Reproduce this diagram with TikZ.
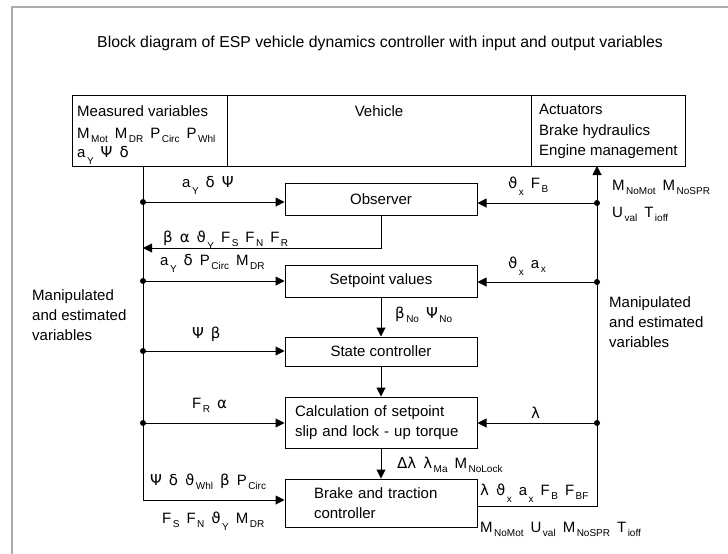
\documentclass[tikz,border=0pt]{standalone}
\usepackage{fontspec}
\setmainfont{Liberation Sans}
\newfontfamily\gk{DejaVu Sans}
\usetikzlibrary{arrows.meta}
\newcommand{\sbx}[1]{\hspace{1.5pt}\raisebox{-4pt}{\fontsize{10}{10}\selectfont #1}}
\newcommand{\sbl}[1]{\hspace{1.5pt}\raisebox{-7pt}{\fontsize{10}{10}\selectfont #1}}
\newcommand{\G}[1]{{\gk #1}}
\newcommand{\gp}{\hspace{7pt}}
\begin{document}
\begin{tikzpicture}[x=1pt,y=-1pt,
  every node/.style={font=\fontsize{15}{20.5}\selectfont},
  blk/.style={draw, line width=1pt, inner sep=0},
  lbl/.style={anchor=base west, inner sep=0},
  ln/.style={line width=1pt},
  arr/.style={ln, -{Triangle[length=9pt,width=9pt]}},
  dot/.style={circle, fill, inner sep=0, minimum size=6pt}]
\useasboundingbox (0,0) rectangle (728,554);
\draw[gray!65, line width=2pt] (12,554) -- (12,6.5) -- (728,6.5);

\node[anchor=base, inner sep=0, font=\fontsize{15.8}{20}\selectfont] (title) at (380,47) {Block diagram of ESP vehicle dynamics controller with input and output variables};

% top bar
\node[blk, minimum width=155, minimum height=71] (meas) at (149.5,130.5) {};
\node[blk, minimum width=304, minimum height=71] (veh) at (379,130.5) {};
\node[blk, minimum width=154, minimum height=71] (act) at (608,130.5) {};
\node[lbl] (m1) at (77,116) {Measured variables};
\node[lbl] (m2) at (77,138) {M\sbx{Mot}\gp M\sbx{DR}\gp P\sbx{Circ}\gp P\sbx{Whl}};
\node[lbl] (m3) at (77,157) {a\sbl{Y}\gp \G{Ψ}\gp \G{δ}};
\node[anchor=base, inner sep=0] (vt) at (379,116) {Vehicle};
\node[lbl] (a1) at (539,114.5) {Actuators};
\node[lbl] (a2) at (539,135) {Brake hydraulics};
\node[lbl] (a3) at (539,155) {Engine management};

% blocks
\node[blk, minimum width=192, minimum height=32] (obs) at (381,199.5) {Observer};
\node[blk, minimum width=192, minimum height=32] (set) at (381,281) {Setpoint values};
\node[blk, minimum width=192, minimum height=29] (st) at (381,351.5) {State controller};
\node[blk, minimum width=192, minimum height=51, text width=172, align=left] (cal) at (381,422.5) {Calculation of setpoint\\slip and lock - up torque};
\node[blk, minimum width=192, minimum height=48, text width=134, align=left] (brk) at (381,503) {Brake and traction\\controller};

% bus coordinates
\coordinate (ltop) at (143,166);
\coordinate (lbot) at (143,500);
\coordinate (j1) at (143,202);
\coordinate (j2) at (143,281);
\coordinate (j3) at (143,351);
\coordinate (j4) at (143,423);
\coordinate (fb) at (143,248);
\coordinate (rtop) at (597,166);
\coordinate (rbot) at (597,506);
\coordinate (r1) at (597,203);
\coordinate (r2) at (597,282);
\coordinate (r3) at (597,423);

% buses
\draw[arr] (ltop) -- (lbot) -- (brk.west |- lbot);
\draw[arr] (brk.east |- rbot) -- (rbot) -- (rtop);
% left inputs
\draw[arr] (j1) -- (obs.west |- j1);
\draw[arr] (j2) -- (set.west |- j2);
\draw[arr] (j3) -- (st.west |- j3);
\draw[arr] (j4) -- (cal.west |- j4);
\draw[arr] (obs.south) |- (fb);
% right inputs
\draw[arr] (r1) -- (obs.east |- r1);
\draw[arr] (r2) -- (set.east |- r2);
\draw[arr] (r3) -- (cal.east |- r3);
% chain
\draw[arr] (set.south) -- (st.north);
\draw[arr] (st.south) -- (cal.north);
\draw[arr] (cal.south) -- (brk.north);
% dots
\foreach \p in {j1,j2,j3,j4,r1,r2,r3} \node[dot] at (\p) {};

% labels
\node[lbl] (l1) at (182,187) {a\sbl{Y}\gp \G{δ}\gp \G{Ψ}};
\node[lbl] (l2) at (163,242) {\G{β}\gp \G{α}\gp \G{ϑ}\sbl{Y}\gp F\sbx{S}\gp F\sbx{N}\gp F\sbx{R}};
\node[lbl] (l3) at (160,265.5) {a\sbl{Y}\gp \G{δ}\gp P\sbx{Circ}\gp M\sbx{DR}};
\node[lbl] (l4) at (508,188.5) {\G{ϑ}\sbl{x}\gp F\sbx{B}};
\node[lbl] (l5) at (508,268.5) {\G{ϑ}\sbl{x}\gp a\sbx{x}};
\node[lbl] (l6) at (612,190.5) {M\sbx{NoMot}\gp M\sbx{NoSPR}};
\node[lbl] (l7) at (612,217) {U\sbx{val}\gp T\sbx{ioff}};
\node[lbl] (l8) at (395,318.5) {\G{β}\sbx{No}\gp \G{Ψ}\sbx{No}};
\node[lbl] (l9) at (192,338.5) {\G{Ψ}\gp \G{β}};
\node[lbl] (l10) at (192,408.5) {F\sbx{R}\gp \G{α}};
\node[lbl] (l11) at (531,418.5) {\G{λ}};
\node[lbl] (l12) at (397,468.5) {\G{Δλ}\gp \G{λ}\sbx{Ma}\gp M\sbx{NoLock}};
\node[lbl] (l13) at (150,485.5) {\G{Ψ}\gp \G{δ}\gp \G{ϑ}\sbx{Whl}\gp \G{β}\gp P\sbx{Circ}};
\node[lbl] (l14) at (162,523.5) {F\sbx{S}\gp F\sbx{N}\gp \G{ϑ}\sbl{Y}\gp M\sbx{DR}};
\node[lbl] (l15) at (480,495.5) {\G{λ}\gp \G{ϑ}\sbl{x}\gp a\sbl{x}\gp F\sbx{B}\gp F\sbx{BF}};
\node[lbl] (l16) at (480,532) {M\sbx{NoMot}\gp U\sbx{val}\gp M\sbx{NoSPR}\gp T\sbx{ioff}};

% side labels
\node[lbl] (ml1) at (32,300) {Manipulated};
\node[lbl] (ml2) at (32,320) {and estimated};
\node[lbl] (ml3) at (32,340) {variables};
\node[lbl] (mr1) at (609,307) {Manipulated};
\node[lbl] (mr2) at (609,327) {and estimated};
\node[lbl] (mr3) at (609,347) {variables};
\end{tikzpicture}
\end{document}
